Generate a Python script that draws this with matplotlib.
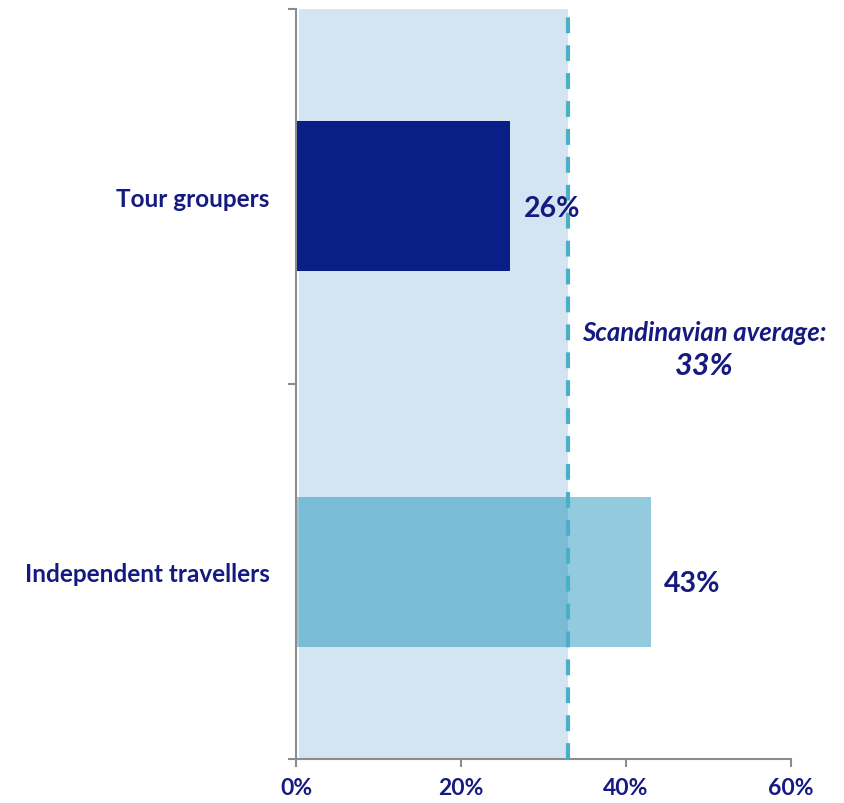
import matplotlib.pyplot as plt
from matplotlib.patches import Rectangle

# Share of visitors per traveller type
categories = ['Tour groupers', 'Independent travellers']
shares = [26, 43]
scandi_avg = 33
x_ticks = [0, 20, 40, 60]

navy = '#141a80'
plt.rcParams['font.family'] = ['Lato', 'DejaVu Sans']

fig = plt.figure(figsize=(8.44, 8.04), dpi=100)
ax = fig.add_axes([0.3507, 0.0547, 0.5865, 0.9329])

ax.set_xlim(0, 60)
ax.set_ylim(2, 0)

# shaded band up to the average
ax.add_patch(Rectangle((0.35, 0), scandi_avg - 0.35, 2, facecolor='#d3e5f2',
                       edgecolor='none', zorder=1))

ypos = [0.5, 1.5]
ax.barh(ypos[0], shares[0], height=0.4, color='#0a1e87', zorder=2)
ax.barh(ypos[1], shares[1], height=0.4, color='#0686b2', alpha=0.43, zorder=2)

ax.axvline(scandi_avg, color='#4bafc8', lw=3, ls=(0, (3.8, 2.9)), zorder=3)

for y, v in zip(ypos, shares):
    ax.text(v + 1.6, y + 0.03, f'{v}%', va='center', ha='left', fontsize=20.5,
            fontweight='bold', color=navy, zorder=4)

ax.text(49.5, 0.861, 'Scandinavian average:', ha='center', va='center',
        fontsize=18.5, fontweight='bold', style='italic', color=navy)
ax.text(49.5, 0.949, f'{scandi_avg}%', ha='center', va='center',
        fontsize=22, fontweight='bold', style='italic', color=navy)

# axes styling
for s in ['top', 'right']:
    ax.spines[s].set_visible(False)
for s in ['left', 'bottom']:
    ax.spines[s].set_color('#8c8c8c')
    ax.spines[s].set_linewidth(1.5)

ax.set_xticks(x_ticks)
ax.set_xticklabels([f'{t}%' for t in x_ticks], fontsize=16.5, fontweight='bold',
                   color=navy)
ax.set_yticks([0, 1, 2])
ax.set_yticklabels([])
ax.set_yticks(ypos, minor=True)
ax.set_yticklabels(categories, minor=True, fontsize=17.5, fontweight='bold',
                   color=navy)
ax.tick_params(axis='y', which='minor', length=0, pad=19)
ax.tick_params(axis='both', which='major', color='#8c8c8c', width=1.5, length=6)
ax.tick_params(axis='x', pad=7)

fig.savefig('out.png', dpi=100)
